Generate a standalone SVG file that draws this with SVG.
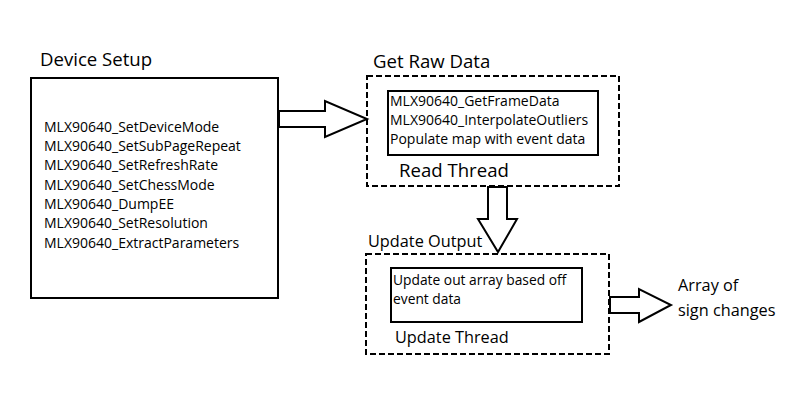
<svg xmlns="http://www.w3.org/2000/svg" width="800" height="402" viewBox="0 0 800 402">
<style>
text{font-family:"Open Sans","Liberation Sans",sans-serif;fill:#000}
.t{font-size:18.6px}
.u{font-size:16.3px}
.s{font-size:14px}
.m{font-size:13.8px}
.box{fill:#fff;stroke:#000;stroke-width:2}
.dash{fill:none;stroke:#000;stroke-width:2;stroke-dasharray:6,3}
.arr{fill:#fff;stroke:#000;stroke-width:2;stroke-linejoin:miter}
</style>
<rect width="800" height="402" fill="#fff"/>
<g id="device-setup">
<text class="t" x="40" y="66">Device Setup</text>
<rect class="box" x="31" y="78" width="247" height="220"/>
<text class="s" x="44" y="132">MLX90640_SetDeviceMode</text>
<text class="s" x="44" y="151">MLX90640_SetSubPageRepeat</text>
<text class="s" x="44" y="170">MLX90640_SetRefreshRate</text>
<text class="s" x="44" y="190">MLX90640_SetChessMode</text>
<text class="s" x="44" y="209">MLX90640_DumpEE</text>
<text class="s" x="44" y="228">MLX90640_SetResolution</text>
<text class="s" x="44" y="248">MLX90640_ExtractParameters</text>
</g>
<g id="get-raw-data">
<text class="t" x="373" y="68">Get Raw Data</text>
<rect class="dash" x="367" y="76" width="252" height="110"/>
<rect class="box" x="388" y="91" width="210" height="64"/>
<text class="s" x="390" y="106">MLX90640_GetFrameData</text>
<text class="s" x="390" y="125">MLX90640_InterpolateOutliers</text>
<text class="s" x="390" y="144">Populate map with event data</text>
<text class="t" x="399" y="177">Read Thread</text>
</g>
<g id="update-output">
<text class="u" x="368" y="247">Update Output</text>
<rect class="dash" x="366" y="254" width="243" height="100"/>
<rect class="box" x="391" y="268" width="191" height="54"/>
<text class="m" x="393" y="285">Update out array based off</text>
<text class="m" x="393" y="304">event data</text>
<text class="u" x="395" y="343">Update Thread</text>
</g>
<g id="output-label">
<text class="u" x="678" y="291">Array of</text>
<text class="u" x="678" y="316">sign changes</text>
</g>
<g id="connectors">
<polygon class="arr" points="279,111 325,111 325,101 367,119 325,137 325,127 279,127"/>
<polygon class="arr" points="488,187 507,187 507,219 517,219 498,252 478,219 488,219"/>
<polygon class="arr" points="610,297 639,297 639,289 671,305 639,322 639,313 610,313"/>
</g>
</svg>
